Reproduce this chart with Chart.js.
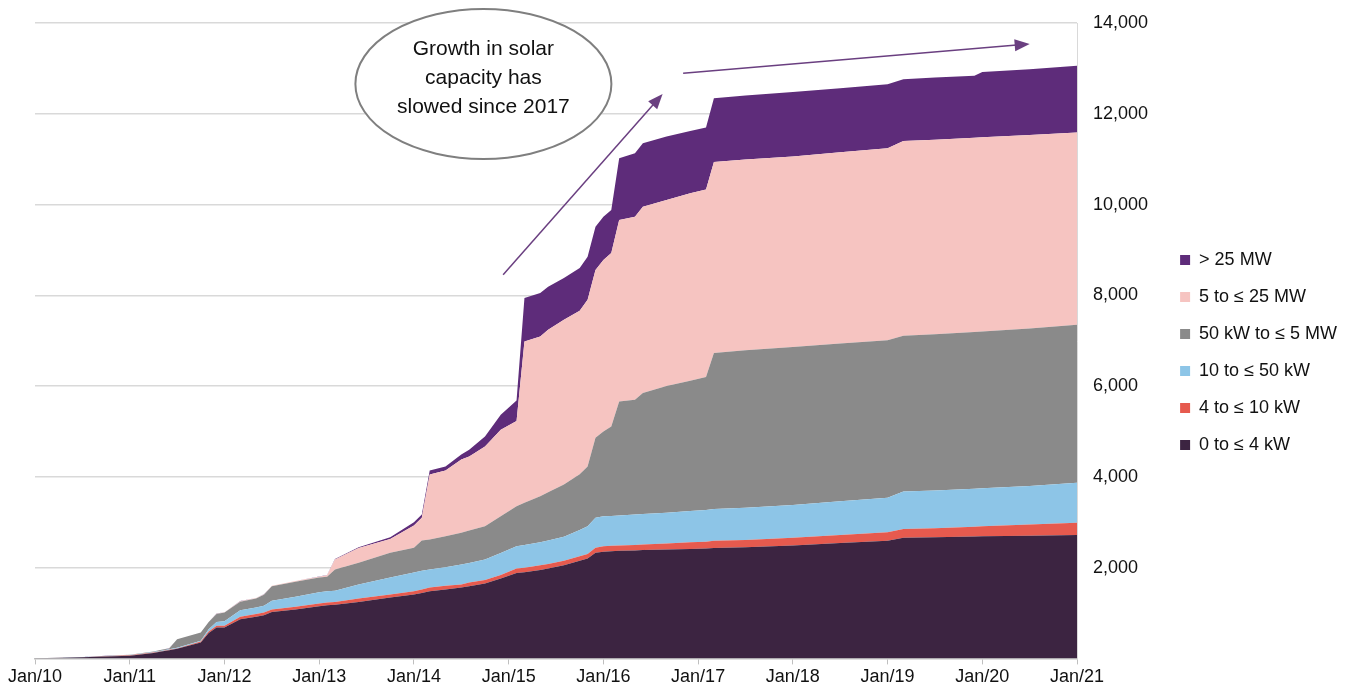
<!DOCTYPE html>
<html>
<head>
<meta charset="utf-8">
<script src="https://cdn.jsdelivr.net/npm/chart.js@4"></script>
<style>
  html, body { margin: 0; padding: 0; background: #fff; }
  #wrap { width: 1355px; height: 692px; }
</style>
</head>
<body>
<div id="wrap"><canvas id="graph" width="1355" height="692"></canvas></div>
<script>
// months since Jan 2010
const months = [0,3,6,9,12,15,16,17,18,21,22,23,24,26,28,29,30,33,36,37,38,41,45,48,49,50,52,54,55,57,59,61,62,64,65,67,69,70,71,72,73,74,76,77,80,83,85,86,90,96,102,108,110,114,119,120,126,132]

// capacity (MW) per size band
const kw0to4 = [5,12,25,40,60,120,150,180,210,350,560,680,680,860,920,950,1020,1080,1150,1170,1180,1240,1340,1410,1440,1480,1520,1560,1590,1650,1760,1880,1900,1950,1980,2050,2150,2200,2330,2350,2360,2370,2380,2390,2400,2410,2420,2430,2450,2490,2540,2590,2660,2670,2685,2690,2700,2720]
const kw4to10 = [0,1,3,5,8,10,10,10,10,20,30,40,40,60,60,60,60,60,60,60,60,80,70,70,80,80,80,70,80,80,80,100,100,100,100,100,100,100,110,120,120,120,120,120,130,150,150,160,160,170,180,190,190,200,215,220,250,270]
const kw10to50 = [0,1,2,5,7,10,10,10,15,20,50,80,100,140,140,150,190,220,250,250,250,310,370,410,410,400,410,440,430,450,480,490,500,510,520,530,580,610,660,660,660,660,670,670,680,690,700,700,710,720,740,760,830,830,840,840,850,880]
const kw50to5mw = [0,1,2,5,5,10,20,20,185,180,160,180,190,190,200,240,320,330,320,320,470,480,550,550,670,660,680,700,720,730,810,880,930,1010,1060,1150,1230,1320,1760,1870,1970,2510,2530,2670,2790,2870,2930,3440,3470,3480,3480,3470,3430,3440,3450,3450,3470,3480]
const mw5to25 = [0,0,0,0,0,0,0,0,0,0,0,5,5,10,10,10,10,15,20,30,220,320,300,490,500,1430,1450,1610,1630,1760,1910,1880,3550,3520,3580,3630,3600,3670,3700,3780,3820,4000,4030,4100,4100,4130,4130,4210,4200,4200,4210,4230,4290,4290,4280,4280,4260,4240]
const mwOver25 = [0,0,1,1,2,2,2,2,2,2,2,3,3,3,3,3,3,3,5,5,10,20,40,70,70,90,90,110,150,220,330,450,960,960,950,920,940,950,950,950,950,1360,1400,1400,1400,1370,1370,1400,1410,1420,1410,1410,1360,1370,1370,1440,1450,1470]

const seriesNames = ['0 to ≤ 4 kW','4 to ≤ 10 kW','10 to ≤ 50 kW','50 kW to ≤ 5 MW','5 to ≤ 25 MW','> 25 MW']
const seriesColors = ['#3c2441','#e65a4e','#8dc5e7','#8a8a8a','#f6c4c1','#5e2c7a']
const allSeries = [kw0to4, kw4to10, kw10to50, kw50to5mw, mw5to25, mwOver25]

const xTicks = [0,12,24,36,48,60,72,84,96,108,120,132]
const yTicks = [0,2000,4000,6000,8000,10000,12000,14000]

// annotation (data coords)
const note = { x: 56.8, y: 12657, lines: ['Growth in solar','capacity has','slowed since 2017'] }
const arrows = [
    { from: [59.3, 8453], to: [79.5, 12437] },
    { from: [82.1, 12892], to: [126.0, 13537] }
]

const FONT = "'Liberation Sans', Arial, sans-serif"

const datasets = allSeries.map((vals, i) => ({
    label: seriesNames[i],
    data: months.map((m, j) => ({ x: m, y: vals[j] })),
    backgroundColor: seriesColors[i],
    borderColor: seriesColors[i],
    borderWidth: 0,
    pointRadius: 0,
    tension: 0,
    fill: i === 0 ? 'origin' : '-1'
}))

function arrowHead(ctx, x1, y1, x2, y2) {
    const a = Math.atan2(y2 - y1, x2 - x1)
    const len = 15, w = 6
    ctx.beginPath()
    ctx.moveTo(x2, y2)
    ctx.lineTo(x2 - len * Math.cos(a) + w * Math.sin(a), y2 - len * Math.sin(a) - w * Math.cos(a))
    ctx.lineTo(x2 - len * Math.cos(a) - w * Math.sin(a), y2 - len * Math.sin(a) + w * Math.cos(a))
    ctx.closePath()
    ctx.fill()
}

const notePlugin = {
    id: 'note',
    afterLayout(chart) {
        // nudge legend up a little
        chart.legend.top -= 4
        chart.legend.bottom -= 4
    },
    afterDatasetsDraw(chart) {
        const { ctx, scales } = chart
        ctx.save()
        // arrows
        ctx.strokeStyle = '#6a3f80'
        ctx.fillStyle = '#6a3f80'
        ctx.lineWidth = 1.5
        arrows.forEach(a => {
            const x1 = scales.x.getPixelForValue(a.from[0]), y1 = scales.y.getPixelForValue(a.from[1])
            const x2 = scales.x.getPixelForValue(a.to[0]), y2 = scales.y.getPixelForValue(a.to[1])
            const ang = Math.atan2(y2 - y1, x2 - x1)
            ctx.beginPath()
            ctx.moveTo(x1, y1)
            ctx.lineTo(x2 - 10 * Math.cos(ang), y2 - 10 * Math.sin(ang))
            ctx.stroke()
            arrowHead(ctx, x1, y1, x2, y2)
        })
        // ellipse
        const cx = scales.x.getPixelForValue(note.x), cy = scales.y.getPixelForValue(note.y)
        ctx.beginPath()
        ctx.ellipse(cx, cy, 128, 75, 0, 0, Math.PI * 2)
        ctx.fillStyle = '#fff'
        ctx.fill()
        ctx.strokeStyle = '#7f7f7f'
        ctx.lineWidth = 2
        ctx.stroke()
        ctx.fillStyle = '#111'
        ctx.font = '21px ' + FONT
        ctx.textAlign = 'center'
        ctx.textBaseline = 'middle'
        note.lines.forEach((t, i) => ctx.fillText(t, cx, cy + (i - 1) * 29 - 6))
        ctx.restore()
    }
}

const ctx = document.querySelector('#graph').getContext('2d')
const solarChart = new Chart(ctx, {
    type: 'line',
    data: { datasets },
    plugins: [notePlugin],
    options: {
        responsive: false,
        animation: false,
        layout: { padding: { left: 35, top: 23, right: 8, bottom: 2 } },
        plugins: {
            legend: {
                position: 'right',
                reverse: true,
                labels: {
                    usePointStyle: true,
                    pointStyle: 'rect',
                    boxWidth: 10,
                    boxHeight: 10,
                    padding: 19,
                    color: '#111',
                    font: { family: FONT, size: 18 }
                }
            },
            tooltip: { enabled: false }
        },
        scales: {
            x: {
                type: 'linear',
                min: 0,
                max: 132,
                grid: { drawOnChartArea: false, drawTicks: true, tickLength: 6, color: '#bfbfbf' },
                border: { display: true, color: '#bfbfbf', width: 1.5 },
                afterBuildTicks: axis => { axis.ticks = xTicks.map(v => ({ value: v })) },
                ticks: {
                    autoSkip: false,
                    maxRotation: 0,
                    padding: 2,
                    color: '#111',
                    font: { family: FONT, size: 18 },
                    callback: v => 'Jan/' + (10 + v / 12)
                }
            },
            y: {
                position: 'right',
                stacked: true,
                min: 0,
                max: 14000,
                afterBuildTicks: axis => { axis.ticks = yTicks.map(v => ({ value: v })) },
                afterFit: axis => {
                    axis.width -= 3
                    axis.paddingTop = 0
                    axis.paddingBottom = 0
                },
                grid: { color: c => c.tick.value === 0 ? 'rgba(0,0,0,0)' : '#d9d9d9', lineWidth: 1.5, drawTicks: false },
                border: { display: true, color: '#d9d9d9' },
                ticks: {
                    padding: 16,
                    color: '#111',
                    font: { family: FONT, size: 18 },
                    callback: v => v === 0 ? '' : v.toLocaleString('en-US')
                }
            }
        }
    }
})
</script>
</body>
</html>
